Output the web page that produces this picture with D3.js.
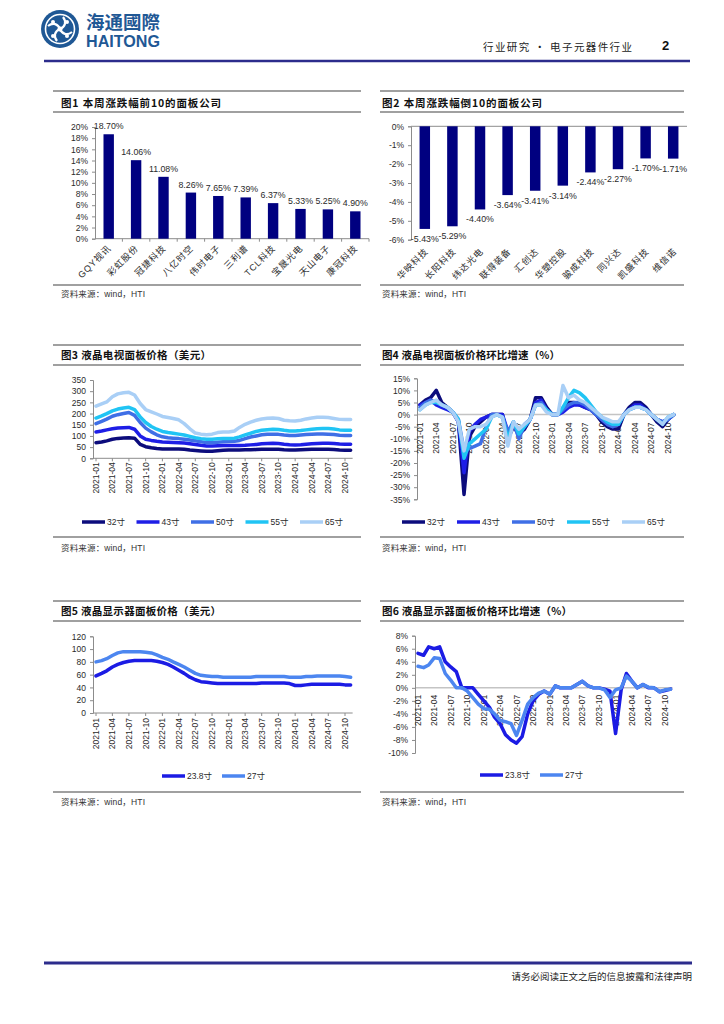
<!DOCTYPE html>
<html><head><meta charset="utf-8">
<script src="https://cdn.jsdelivr.net/npm/d3@7"></script>
<style>
body{margin:0;background:#fff}
svg{display:block}
text{font-family:"Liberation Sans",Arial,"Noto Sans CJK SC",sans-serif}
</style></head>
<body>
<svg id="c" width="724" height="1024"></svg>
<script>
// ---------- DATA ----------
const topNames = ["GQY视讯","彩虹股份","冠捷科技","八亿时空","伟时电子","三利谱","TCL科技","宝晟光电","天山电子","康冠科技"];
const topValues = [18.70,14.06,11.08,8.26,7.65,7.39,6.37,5.33,5.25,4.90];
const bottomNames = ["华映科技","长阳科技","纬达光电","联得装备","汇创达","华塑控股","骏成科技","同兴达","凯盛科技","维信诺"];
const bottomValues = [-5.43,-5.29,-4.40,-3.64,-3.41,-3.14,-2.44,-2.27,-1.70,-1.71];

const monthTicks = ["2021-01","2021-04","2021-07","2021-10","2022-01","2022-04","2022-07","2022-10","2023-01","2023-04","2023-07","2023-10","2024-01","2024-04","2024-07","2024-10"];

const tvNames = ["32寸","43寸","50寸","55寸","65寸"];
// TV panel prices (USD), monthly 2021-01 .. 2024-11
const tv32 = [70,73,78,85,89,91,92,90,62,52,47,44, 42,42,42,42,40,37,35,33,31,32,34,36, 37,37,37,38,38,39,40,41,41,40,38,37, 37,38,39,40,41,41,40,39,37,36,36];
const tv43 = [118,122,127,132,135,137,138,130,100,85,80,76, 73,72,71,70,68,65,62,58,55,55,56,57, 57,57,57,58,60,62,65,66,67,66,63,61, 60,61,63,65,66,67,67,66,64,63,63];
const tv50 = [155,165,175,188,195,200,205,192,160,135,118,105, 96,92,90,88,85,82,78,74,70,70,72,74, 75,76,80,88,95,100,105,108,108,107,104,102, 102,104,106,108,109,109,108,106,103,102,102];
const tv55 = [180,190,200,212,220,225,228,218,185,160,142,130, 120,115,112,108,104,98,92,88,85,85,87,88, 88,90,96,105,112,120,125,128,130,129,125,122, 122,124,127,130,132,133,133,131,127,125,125];
const tv65 = [233,243,252,275,288,293,295,283,245,218,208,198, 187,182,178,172,155,132,113,108,105,108,115,118, 118,122,138,152,162,170,176,179,180,178,170,168, 167,170,176,180,183,184,182,178,174,173,173];

// TV panel price MoM (%)
const tvMom32 = [4,6,7,10,5,3,1,-3,-33,-9,-5,-3, -1,0,0,0,-10,-5,-8,-6,-2,7,7,3, 0,0,2,5,5,4,3,2,0,-3,-5,-6, -6,0,3,5,5,3,0,-3,-5,-2,0];
const tvMom43 = [4,5,6,4,3,2,1,-3,-24,-7,-4,-2, -1,0,0,0,-7,-4,-9,-5,-2,5,6,2, 0,0,1,3,4,4,3,2,0,-2,-4,-5, -4,0,2,4,4,2,0,-2,-3,-2,0];
const tvMom50 = [3,5,6,5,4,3,1,-2,-15,-14,-13,-12, -5,0,0,-1,-7,-3,-10,-4,-2,4,5,2, 0,0,2,4,5,5,4,2,0,-2,-4,-5, -4,0,2,3,3,2,0,-2,-3,-2,0];
const tvMom55 = [2,4,5,5,4,3,1,-2,-18,-12,-10,-8, -6,-1,0,-1,-10,-3,-8,-5,-2,4,4,2, 0,0,3,7,10,9,7,4,1,-1,-3,-4, -4,0,2,3,3,2,0,-2,-4,-1,0];
const tvMom65 = [2,4,5,6,4,3,1,-3,-15,-6,-5,-5, -4,-1,0,-1,-13,-3,-6,-4,-2,4,4,1, 0,0,12,7,8,6,5,3,1,-1,-2,-3, -3,0,2,3,3,2,0,-2,-4,-1,0];

const monNames = ["23.8寸","27寸"];
// Monitor panel prices (USD)
const mon238 = [58,62,66,72,76,79,81,82,82,82,82,81, 79,76,72,67,62,56,52,49,48,47,46,46, 46,46,46,46,46,46,47,47,47,47,47,46, 43,43,44,45,45,45,45,45,45,44,44];
const mon27 = [80,82,85,90,94,96,96,96,96,95,94,91, 87,84,80,76,72,67,62,59,58,57,57,56, 56,56,56,56,56,57,57,57,57,57,57,56, 56,56,57,57,58,58,58,58,58,57,56];
// Monitor panel price MoM (%)
const monMom238 = [5.3,5.0,6.3,6.0,6.3,4.0,3.2,2.5,0,0,0,-1.0, -2.0,-3.0,-4.5,-5.5,-7.2,-8.0,-8.5,-7.5,-4.0,-2.0,-1.0,-0.5, -1.0,0.3,0,0,0,0.5,1.0,0.3,0,0,-0.2,-0.5, -7.0,-0.3,2.2,1.0,0,0.5,0,0,-0.6,-0.4,-0.2];
const monMom27 = [3.3,3.1,3.5,4.6,4.5,2.2,1.2,0,0,-0.5,-1.5,-2.5, -3.2,-3.3,-4.0,-5.0,-5.2,-5.5,-7.3,-5.0,-2.5,-1.5,-0.8,-0.5, -1.0,0.3,0,0,0,0.5,1.0,0.3,0,0,-0.3,-1.5, -0.3,0,1.8,1.0,0,0.5,0.1,0,-0.6,-0.3,-0.2];

// ---------- DRAW ----------
const svg = d3.select("#c");
const parse = d3.timeParse("%Y-%m");
const months = d3.timeMonth.range(new Date(2021,0,1), new Date(2024,11,1));
const tickDates = monthTicks.map(parse);
const tvColors = ["#0c0c7c","#1e1ee6","#3f6fe6","#20c4f4","#a9cff6"];
const monColors = ["#1b1be4","#4c86f0"];
const AX = "#8c8c8c", TXT = "#2a2a2a";

// header
const logo = svg.append("g").attr("transform","translate(60,29)");
logo.append("circle").attr("r",19).attr("fill","#1f5895");
logo.append("circle").attr("r",14.5).attr("fill","none").attr("stroke","#fff").attr("stroke-width",1.6);
[0,90,180,270].forEach(a=>{
  logo.append("path").attr("d","M0,0 C5,-2 7,-7 3,-12").attr("fill","none").attr("stroke","#fff").attr("stroke-width",2.2).attr("transform",`rotate(${a})`);
  logo.append("circle").attr("cx",7).attr("cy",-7).attr("r",2).attr("fill","#fff").attr("transform",`rotate(${a})`);
});
logo.append("circle").attr("r",2.5).attr("fill","#fff");
svg.append("text").attr("x",86).attr("y",29).attr("font-size",18).attr("font-weight","bold").attr("fill","#1f5895").attr("textLength",74).attr("lengthAdjust","spacingAndGlyphs").style("font-family","'Noto Sans CJK SC'").text("海通國際");
svg.append("text").attr("x",86).attr("y",47).attr("font-size",17).attr("font-weight","bold").attr("fill","#1f5895").attr("textLength",74).attr("lengthAdjust","spacingAndGlyphs").text("HAITONG");
svg.append("text").attr("x",483).attr("y",51).attr("font-size",10.5).attr("fill","#222").attr("textLength",149).attr("lengthAdjust","spacing").style("font-family","'Noto Sans CJK SC'").text("行业研究 • 电子元器件行业");
svg.append("text").attr("x",662).attr("y",50).attr("font-size",13).attr("font-weight","bold").attr("fill","#111").text("2");
svg.append("line").attr("x1",44).attr("x2",690).attr("y1",61).attr("y2",61).attr("stroke","#2c2c8c").attr("stroke-width",2.5);
// footer
svg.append("line").attr("x1",44).attr("x2",692).attr("y1",963).attr("y2",963).attr("stroke","#2c2c8c").attr("stroke-width",3);
svg.append("text").attr("x",692).attr("y",980).attr("text-anchor","end").attr("font-size",9.5).attr("fill","#222").style("font-family","'Noto Sans CJK SC'").text("请务必阅读正文之后的信息披露和法律声明");

// panels
function panel(x0,x1,tx,top,tb,tl,bottom,src,title,tw){
  const g=svg.append("g");
  [top,tl,bottom].forEach(yy=>g.append("line").attr("x1",x0).attr("x2",x1).attr("y1",yy).attr("y2",yy).attr("stroke","#808080").attr("stroke-width",1.5));
  g.append("text").attr("x",tx).attr("y",tb).attr("font-size",10.5).attr("font-weight","bold").attr("fill","#111")
   .attr("textLength",tw).attr("lengthAdjust","spacing").style("font-family","'Noto Sans CJK SC'").text(title);
  g.append("text").attr("x",tx).attr("y",src).attr("font-size",8.5).attr("fill","#333").attr("textLength",84).attr("lengthAdjust","spacing").text("资料来源：wind，HTI");
}
panel(53,361,61,91,107,112,285,297,"图1  本周涨跌幅前10的面板公司",160);
panel(380,684,382,91,107,112,285,297,"图2  本周涨跌幅倒10的面板公司",160);
panel(53,361,61,345,359,365,537,551,"图3  液晶电视面板价格（美元）",150);
panel(380,684,382,345,359,365,537,551,"图4  液晶电视面板价格环比增速（%）",178);
panel(53,361,61,601,615,621,792,805,"图5  液晶显示器面板价格（美元）",160);
panel(380,684,382,601,615,621,792,805,"图6  液晶显示器面板价格环比增速（%）",190);

function styleAxis(sel){
  sel.select(".domain").attr("stroke",AX).attr("stroke-width",1);
  sel.selectAll(".tick line").attr("stroke",AX);
  sel.selectAll(".tick text").attr("fill",TXT).attr("font-size",8.5).style("font-family","'Liberation Sans',Arial");
}

// chart 1
(function(){
  const x=d3.scaleBand().domain(topNames).range([95,369]).paddingInner(0.62).paddingOuter(0.31);
  const y=d3.scaleLinear().domain([0,20]).range([238.7,127]);
  const g=svg.append("g");
  g.append("g").attr("transform","translate(95,0)").call(d3.axisLeft(y).tickValues(d3.range(0,21,2)).tickSize(3).tickPadding(4).tickFormat(d=>d+"%")).call(styleAxis);
  g.append("line").attr("x1",95).attr("x2",369).attr("y1",y(0)).attr("y2",y(0)).attr("stroke",AX);
  const step=x.step();
  topNames.forEach((n,i)=>{const bx=95+i*step+step; g.append("line").attr("x1",bx).attr("x2",bx).attr("y1",y(0)).attr("y2",y(0)+3).attr("stroke",AX);});
  g.selectAll("rect").data(topValues).join("rect").attr("x",(d,i)=>x(topNames[i])).attr("width",x.bandwidth())
   .attr("y",d=>y(d)).attr("height",d=>y(0)-y(d)).attr("fill","#000080");
  g.selectAll("text.v").data(topValues).join("text").attr("class","v").attr("x",(d,i)=>x(topNames[i])+x.bandwidth()/2).attr("y",d=>y(d)-5)
   .attr("text-anchor","middle").attr("font-size",8.8).attr("fill",TXT).text(d=>d.toFixed(2)+"%");
  g.selectAll("text.c").data(topNames).join("text").attr("class","c")
   .attr("transform",(d)=>`translate(${x(d)+x.bandwidth()/2+3},${y(0)+10}) rotate(-45)`).attr("text-anchor","end")
   .attr("font-size",9).attr("letter-spacing",0.9).attr("fill",TXT).text(d=>d);
})();

// chart 2
(function(){
  const x=d3.scaleBand().domain(bottomNames).range([411,687]).paddingInner(0.62).paddingOuter(0.31);
  const y=d3.scaleLinear().domain([-6,0]).range([239.7,126.3]);
  const g=svg.append("g");
  g.append("g").attr("transform","translate(411,0)").call(d3.axisLeft(y).tickValues(d3.range(-6,1,1)).tickSize(3).tickPadding(4).tickFormat(d=>(d<0?"-"+(-d):d)+"%")).call(styleAxis);
  g.append("line").attr("x1",411).attr("x2",687).attr("y1",y(0)).attr("y2",y(0)).attr("stroke",AX);
  g.selectAll("rect").data(bottomValues).join("rect").attr("x",(d,i)=>x(bottomNames[i])).attr("width",x.bandwidth())
   .attr("y",y(0)).attr("height",d=>y(d)-y(0)).attr("fill","#000080");
  g.selectAll("text.v").data(bottomValues).join("text").attr("class","v").attr("x",(d,i)=>x(bottomNames[i])+x.bandwidth()/2).attr("y",d=>y(d)+13)
   .attr("text-anchor","middle").attr("font-size",8.8).attr("fill",TXT).text(d=>"-"+Math.abs(d).toFixed(2)+"%");
  g.selectAll("text.c").data(bottomNames).join("text").attr("class","c")
   .attr("transform",(d)=>`translate(${x(d)+x.bandwidth()/2+4},${252}) rotate(-45)`).attr("text-anchor","end")
   .attr("font-size",9).attr("letter-spacing",0.9).attr("fill",TXT).text(d=>d);
})();

// line charts
function lineChart(c){
  const g=svg.append("g");
  const x=d3.scaleTime().domain([months[0],months[45]]).range([c.x0,c.x1]);
  const y=d3.scaleLinear().domain(c.yDomain).range(c.yRange);
  const y0=y(0), xEnd=x(months[46])+2;
  g.append("line").attr("x1",c.axisX).attr("x2",xEnd).attr("y1",y0).attr("y2",y0)
   .attr("stroke",c.zeroGrid?"#c4c4c4":AX).attr("stroke-width",c.zeroGrid?1.5:1);
  g.append("g").attr("transform",`translate(${c.axisX},0)`).call(d3.axisLeft(y).tickValues(c.yTicks).tickSize(3).tickPadding(4).tickFormat(c.fmt)).call(styleAxis);
  if(!c.zeroGrid) tickDates.forEach(d=>g.append("line").attr("x1",x(d)).attr("x2",x(d)).attr("y1",y0).attr("y2",y0+3).attr("stroke",AX));
  g.selectAll("text.xl").data(tickDates).join("text").attr("class","xl")
   .attr("transform",d=>`translate(${x(d)+3},${y0+c.labOff}) rotate(-90)`).attr("text-anchor","end")
   .attr("font-size",8.5).attr("fill",TXT).text(d3.timeFormat("%Y-%m"));
  const line=d3.line().x((d,j)=>x(months[j])).y(d=>y(d));
  c.series.forEach((s,i)=>g.append("path").attr("d",line(s)).attr("fill","none").attr("stroke",c.colors[i])
     .attr("stroke-width",3.5).attr("stroke-linejoin","round").attr("stroke-linecap","round"));
  c.names.forEach((n,i)=>{
    const lx=c.legX+i*c.legStep;
    g.append("line").attr("x1",lx).attr("x2",lx+23).attr("y1",c.legY).attr("y2",c.legY).attr("stroke",c.colors[i]).attr("stroke-width",3.5);
    g.append("text").attr("x",lx+25).attr("y",c.legY+3).attr("font-size",8.5).attr("fill",TXT).text(n);
  });
}
const pfmt=d=>(d<0?"-"+(-d):d)+"%";
lineChart({x0:96,x1:345,axisX:93,yDomain:[0,350],yRange:[458.3,380],yTicks:d3.range(0,351,50),fmt:d=>d,
  zeroGrid:false,labOff:4,series:[tv32,tv43,tv50,tv55,tv65],colors:tvColors,names:tvNames,legX:82,legStep:54.5,legY:522});
lineChart({x0:420,x1:668,axisX:417,yDomain:[-35,15],yRange:[499.3,378.3],yTicks:d3.range(-35,16,5),fmt:pfmt,
  zeroGrid:true,labOff:8,series:[tvMom32,tvMom43,tvMom50,tvMom55,tvMom65],colors:tvColors,names:tvNames,legX:402,legStep:55,legY:522});
lineChart({x0:96,x1:345,axisX:93,yDomain:[0,120],yRange:[713,636.3],yTicks:d3.range(0,121,20),fmt:d=>d,
  zeroGrid:false,labOff:5,series:[mon238,mon27],colors:monColors,names:monNames,legX:162,legStep:60,legY:776});
lineChart({x0:418,x1:665,axisX:415,yDomain:[-10,8],yRange:[753,635.7],yTicks:d3.range(-10,9,2),fmt:pfmt,
  zeroGrid:true,labOff:7,series:[monMom238,monMom27],colors:monColors,names:monNames,legX:480,legStep:60,legY:775});
</script>
</body></html>
